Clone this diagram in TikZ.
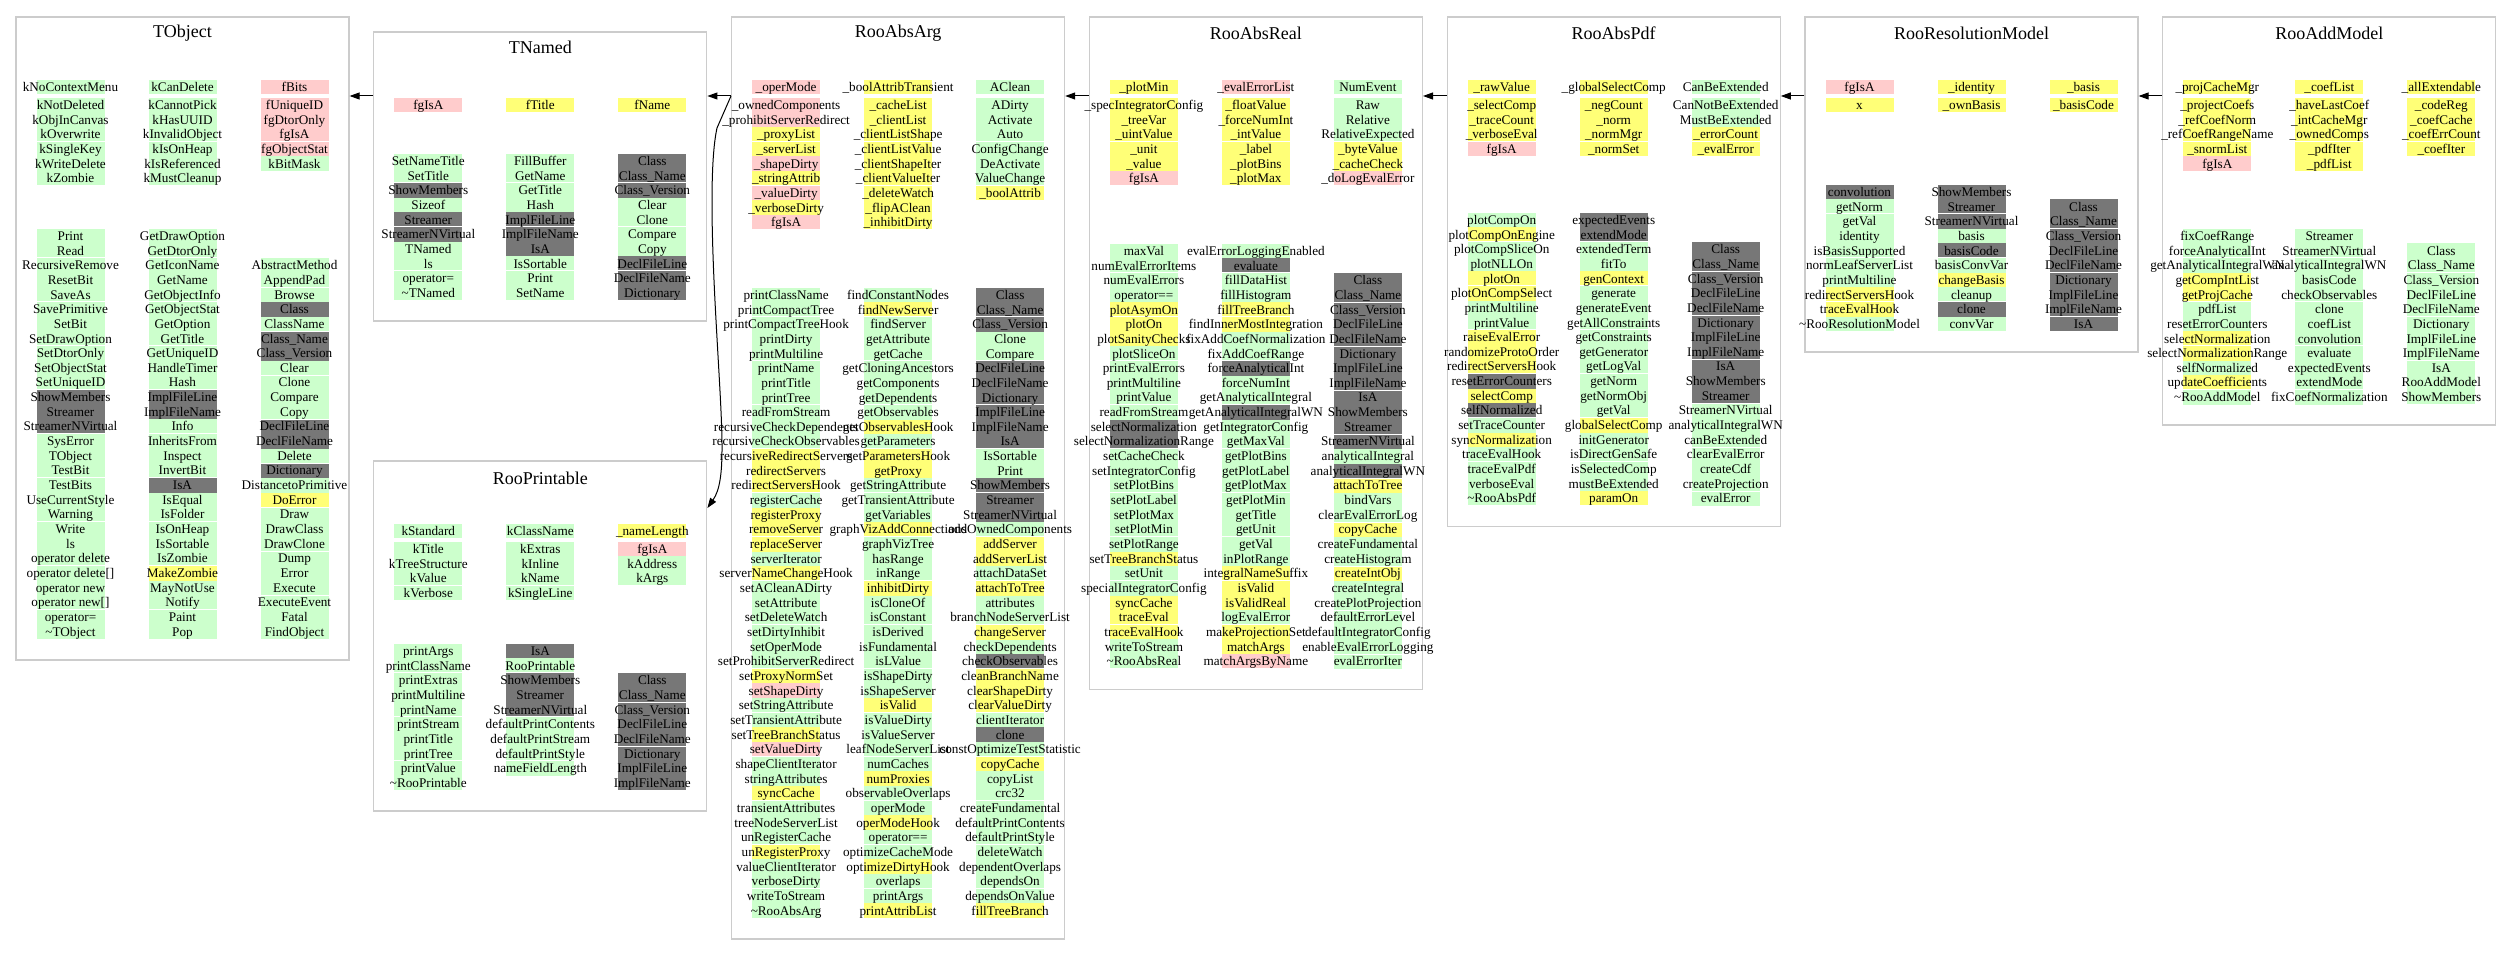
\documentclass[tikz,border=0pt]{standalone}
\usepackage{fontspec}
\setmainfont{Liberation Serif}
\usetikzlibrary{arrows.meta}
\definecolor{gr}{HTML}{CCFFCC}
\definecolor{pk}{HTML}{FFCCCC}
\definecolor{ye}{HTML}{FFFF77}
\definecolor{dg}{HTML}{777777}
\definecolor{frame}{HTML}{CCCCCC}

% one column of members: prefix, x, y of first row, extra gap after first row, colour/text list
% pass 0 paints the cells, pass 1 sets the names on top
\newcommand\memberpass{0}
\newcommand\membercol[5]{%
  \foreach \c/\t [count=\i] in {#5}{%
    \pgfmathsetmacro\yy{#3+(\i-1)*14.66+(\i>1)*#4}%
    \pgfmathtruncatemacro\sep{mod(\i+(#4>0)+1,3)}%
    \ifnum\memberpass=0
      \fill[\c] (#2-34,\yy-7.33) rectangle (#2+34,\yy+7.33);
    \else
      \ifnum\sep=0 \draw[white,line width=1pt] (#2-34,\yy+7.33) -- (#2+34,\yy+7.33); \fi
      \node[member] (#1-\i) at (#2,\yy+4.4) {\t};
    \fi
  }}

\begin{document}
\begin{tikzpicture}[x=1pt,y=-1pt]
    \tikzstyle{classbox}=[draw=frame,line width=1.2pt,minimum width=333pt,inner sep=0pt]
    \tikzstyle{title}=[font=\fontsize{18}{20}\selectfont,inner sep=0pt]
    \tikzstyle{member}=[font=\fontsize{13.2}{14}\selectfont,inner sep=0pt,anchor=base]
    \tikzstyle{inh}=[line width=1pt,-{Triangle[length=10pt,width=7pt]}]
    \useasboundingbox[fill=white] (0,0) rectangle (2509,965);

    % class frames
    \node[classbox,minimum height=643pt] (TObject) at (182.5,338.5) {};
    \node[classbox,minimum height=289pt] (TNamed) at (540.3,176.5) {};
    \node[classbox,minimum height=350pt] (RooPrintable) at (540.3,636) {};
    \node[classbox,minimum height=922pt] (RooAbsArg) at (898.1,478) {};
    \node[classbox,minimum height=672.5pt] (RooAbsReal) at (1255.9,353.25) {};
    \node[classbox,minimum height=509.5pt] (RooAbsPdf) at (1613.7,271.75) {};
    \node[classbox,minimum height=335pt] (RooResolutionModel) at (1971.5,184.5) {};
    \node[classbox,minimum height=408pt] (RooAddModel) at (2329.3,221) {};

    \foreach \name/\x/\y in {TObject/182.5/33, TNamed/540.3/47, RooPrintable/540.3/478,
        RooAbsArg/898.1/33, RooAbsReal/1255.9/33, RooAbsPdf/1613.7/33,
        RooResolutionModel/1971.5/33, RooAddModel/2329.3/33}
        \node[title] (\name-title) at (\x,\y) {\name};

    \newcommand\allmembers{%
    % TObject
    \membercol{TObject-d1}{70.5}{87}{3.34}{gr/kNoContextMenu, gr/kNotDeleted, gr/kObjInCanvas, gr/kOverwrite, gr/kSingleKey, gr/kWriteDelete, gr/kZombie}
    \membercol{TObject-d2}{182.5}{87}{3.34}{gr/kCanDelete, gr/kCannotPick, gr/kHasUUID, gr/kInvalidObject, gr/kIsOnHeap, gr/kIsReferenced, gr/kMustCleanup}
    \membercol{TObject-d3}{294.5}{87}{3.34}{pk/fBits, pk/fUniqueID, pk/fgDtorOnly, pk/fgIsA, pk/fgObjectStat, gr/kBitMask}
    \membercol{TObject-m1}{70.5}{236}{0}{gr/Print, gr/Read, gr/RecursiveRemove, gr/ResetBit, gr/SaveAs, gr/SavePrimitive, gr/SetBit, gr/SetDrawOption, gr/SetDtorOnly, gr/SetObjectStat, gr/SetUniqueID, dg/ShowMembers, dg/Streamer, dg/StreamerNVirtual, gr/SysError, gr/TObject, gr/TestBit, gr/TestBits, gr/UseCurrentStyle, gr/Warning, gr/Write, gr/ls, gr/operator delete, gr/operator delete[], gr/operator new, gr/operator new[], gr/operator=, gr/\textasciitilde TObject}
    \membercol{TObject-m2}{182.5}{236}{0}{gr/GetDrawOption, gr/GetDtorOnly, gr/GetIconName, gr/GetName, gr/GetObjectInfo, gr/GetObjectStat, gr/GetOption, gr/GetTitle, gr/GetUniqueID, gr/HandleTimer, gr/Hash, dg/ImplFileLine, dg/ImplFileName, gr/Info, gr/InheritsFrom, gr/Inspect, gr/InvertBit, dg/IsA, gr/IsEqual, gr/IsFolder, gr/IsOnHeap, gr/IsSortable, gr/IsZombie, ye/MakeZombie, gr/MayNotUse, gr/Notify, gr/Paint, gr/Pop}
    \membercol{TObject-m3}{294.5}{265.32}{0}{gr/AbstractMethod, gr/AppendPad, gr/Browse, dg/Class, gr/ClassName, dg/Class\_Name, dg/Class\_Version, gr/Clear, gr/Clone, gr/Compare, gr/Copy, dg/DeclFileLine, dg/DeclFileName, gr/Delete, dg/Dictionary, gr/DistancetoPrimitive, ye/DoError, gr/Draw, gr/DrawClass, gr/DrawClone, gr/Dump, gr/Error, gr/Execute, gr/ExecuteEvent, gr/Fatal, gr/FindObject}
    % TNamed
    \membercol{TNamed-d1}{428.3}{105}{3.34}{pk/fgIsA}
    \membercol{TNamed-d2}{540.3}{105}{3.34}{ye/fTitle}
    \membercol{TNamed-d3}{652.3}{105}{3.34}{ye/fName}
    \membercol{TNamed-m1}{428.3}{161}{0}{gr/SetNameTitle, gr/SetTitle, dg/ShowMembers, gr/Sizeof, dg/Streamer, dg/StreamerNVirtual, gr/TNamed, gr/ls, gr/operator=, gr/\textasciitilde TNamed}
    \membercol{TNamed-m2}{540.3}{161}{0}{gr/FillBuffer, gr/GetName, gr/GetTitle, gr/Hash, dg/ImplFileLine, dg/ImplFileName, dg/IsA, gr/IsSortable, gr/Print, gr/SetName}
    \membercol{TNamed-m3}{652.3}{161}{0}{dg/Class, dg/Class\_Name, dg/Class\_Version, gr/Clear, gr/Clone, gr/Compare, gr/Copy, dg/DeclFileLine, dg/DeclFileName, dg/Dictionary}
    % RooPrintable
    \membercol{RooPrintable-d1}{428.3}{531}{3.34}{gr/kStandard, gr/kTitle, gr/kTreeStructure, gr/kValue, gr/kVerbose}
    \membercol{RooPrintable-d2}{540.3}{531}{3.34}{gr/kClassName, gr/kExtras, gr/kInline, gr/kName, gr/kSingleLine}
    \membercol{RooPrintable-d3}{652.3}{531}{3.34}{ye/\_nameLength, pk/fgIsA, gr/kAddress, gr/kArgs}
    \membercol{RooPrintable-m1}{428.3}{651}{0}{gr/printArgs, gr/printClassName, gr/printExtras, gr/printMultiline, gr/printName, gr/printStream, gr/printTitle, gr/printTree, gr/printValue, gr/\textasciitilde RooPrintable}
    \membercol{RooPrintable-m2}{540.3}{651}{0}{dg/IsA, gr/RooPrintable, dg/ShowMembers, dg/Streamer, dg/StreamerNVirtual, gr/defaultPrintContents, gr/defaultPrintStream, gr/defaultPrintStyle, gr/nameFieldLength}
    \membercol{RooPrintable-m3}{652.3}{680.32}{0}{dg/Class, dg/Class\_Name, dg/Class\_Version, dg/DeclFileLine, dg/DeclFileName, dg/Dictionary, dg/ImplFileLine, dg/ImplFileName}
    % RooAbsArg
    \membercol{RooAbsArg-d1}{786.1}{87}{3.34}{pk/\_operMode, pk/\_ownedComponents, pk/\_prohibitServerRedirect, ye/\_proxyList, ye/\_serverList, pk/\_shapeDirty, ye/\_stringAttrib, pk/\_valueDirty, ye/\_verboseDirty, pk/fgIsA}
    \membercol{RooAbsArg-d2}{898.1}{87}{3.34}{ye/\_boolAttribTransient, ye/\_cacheList, ye/\_clientList, ye/\_clientListShape, ye/\_clientListValue, ye/\_clientShapeIter, ye/\_clientValueIter, ye/\_deleteWatch, ye/\_flipAClean, ye/\_inhibitDirty}
    \membercol{RooAbsArg-d3}{1010.1}{87}{3.34}{gr/AClean, gr/ADirty, gr/Activate, gr/Auto, gr/ConfigChange, gr/DeActivate, gr/ValueChange, ye/\_boolAttrib}
    \membercol{RooAbsArg-m1}{786.1}{295}{0}{gr/printClassName, gr/printCompactTree, gr/printCompactTreeHook, gr/printDirty, gr/printMultiline, gr/printName, gr/printTitle, gr/printTree, gr/readFromStream, gr/recursiveCheckDependents, gr/recursiveCheckObservables, ye/recursiveRedirectServers, ye/redirectServers, ye/redirectServersHook, gr/registerCache, ye/registerProxy, ye/removeServer, ye/replaceServer, gr/serverIterator, ye/serverNameChangeHook, gr/setACleanADirty, gr/setAttribute, gr/setDeleteWatch, gr/setDirtyInhibit, gr/setOperMode, gr/setProhibitServerRedirect, ye/setProxyNormSet, pk/setShapeDirty, gr/setStringAttribute, gr/setTransientAttribute, ye/setTreeBranchStatus, pk/setValueDirty, gr/shapeClientIterator, gr/stringAttributes, ye/syncCache, gr/transientAttributes, gr/treeNodeServerList, gr/unRegisterCache, ye/unRegisterProxy, gr/valueClientIterator, gr/verboseDirty, gr/writeToStream, gr/\textasciitilde RooAbsArg}
    \membercol{RooAbsArg-m2}{898.1}{295}{0}{gr/findConstantNodes, ye/findNewServer, gr/findServer, gr/getAttribute, gr/getCache, gr/getCloningAncestors, gr/getComponents, gr/getDependents, gr/getObservables, ye/getObservablesHook, gr/getParameters, ye/getParametersHook, ye/getProxy, gr/getStringAttribute, gr/getTransientAttribute, gr/getVariables, ye/graphVizAddConnections, gr/graphVizTree, gr/hasRange, gr/inRange, ye/inhibitDirty, gr/isCloneOf, gr/isConstant, gr/isDerived, gr/isFundamental, gr/isLValue, gr/isShapeDirty, gr/isShapeServer, ye/isValid, gr/isValueDirty, gr/isValueServer, gr/leafNodeServerList, gr/numCaches, ye/numProxies, gr/observableOverlaps, gr/operMode, ye/operModeHook, gr/operator==, gr/optimizeCacheMode, ye/optimizeDirtyHook, gr/overlaps, gr/printArgs, ye/printAttribList}
    \membercol{RooAbsArg-m3}{1010.1}{295}{0}{dg/Class, dg/Class\_Name, dg/Class\_Version, gr/Clone, gr/Compare, dg/DeclFileLine, dg/DeclFileName, dg/Dictionary, dg/ImplFileLine, dg/ImplFileName, dg/IsA, gr/IsSortable, gr/Print, dg/ShowMembers, dg/Streamer, dg/StreamerNVirtual, gr/addOwnedComponents, ye/addServer, ye/addServerList, gr/attachDataSet, ye/attachToTree, gr/attributes, gr/branchNodeServerList, ye/changeServer, gr/checkDependents, dg/checkObservables, ye/cleanBranchName, ye/clearShapeDirty, ye/clearValueDirty, gr/clientIterator, dg/clone, gr/constOptimizeTestStatistic, ye/copyCache, gr/copyList, gr/crc32, gr/createFundamental, gr/defaultPrintContents, gr/defaultPrintStyle, gr/deleteWatch, gr/dependentOverlaps, gr/dependsOn, gr/dependsOnValue, ye/fillTreeBranch}
    % RooAbsReal
    \membercol{RooAbsReal-d1}{1143.9}{87}{3.34}{ye/\_plotMin, ye/\_specIntegratorConfig, ye/\_treeVar, ye/\_uintValue, ye/\_unit, ye/\_value, pk/fgIsA}
    \membercol{RooAbsReal-d2}{1255.9}{87}{3.34}{pk/\_evalErrorList, ye/\_floatValue, ye/\_forceNumInt, ye/\_intValue, ye/\_label, ye/\_plotBins, ye/\_plotMax}
    \membercol{RooAbsReal-d3}{1367.9}{87}{3.34}{gr/NumEvent, gr/Raw, gr/Relative, gr/RelativeExpected, ye/\_byteValue, ye/\_cacheCheck, pk/\_doLogEvalError}
    \membercol{RooAbsReal-m1}{1143.9}{251}{0}{gr/maxVal, gr/numEvalErrorItems, gr/numEvalErrors, gr/operator==, ye/plotAsymOn, ye/plotOn, ye/plotSanityChecks, gr/plotSliceOn, gr/printEvalErrors, gr/printMultiline, gr/printValue, gr/readFromStream, dg/selectNormalization, dg/selectNormalizationRange, gr/setCacheCheck, gr/setIntegratorConfig, gr/setPlotBins, gr/setPlotLabel, gr/setPlotMax, gr/setPlotMin, gr/setPlotRange, ye/setTreeBranchStatus, gr/setUnit, gr/specialIntegratorConfig, ye/syncCache, ye/traceEval, ye/traceEvalHook, gr/writeToStream, gr/\textasciitilde RooAbsReal}
    \membercol{RooAbsReal-m2}{1255.9}{251}{0}{gr/evalErrorLoggingEnabled, dg/evaluate, gr/fillDataHist, gr/fillHistogram, ye/fillTreeBranch, ye/findInnerMostIntegration, gr/fixAddCoefNormalization, gr/fixAddCoefRange, dg/forceAnalyticalInt, gr/forceNumInt, gr/getAnalyticalIntegral, dg/getAnalyticalIntegralWN, gr/getIntegratorConfig, gr/getMaxVal, gr/getPlotBins, gr/getPlotLabel, gr/getPlotMax, gr/getPlotMin, gr/getTitle, gr/getUnit, gr/getVal, gr/inPlotRange, ye/integralNameSuffix, ye/isValid, ye/isValidReal, gr/logEvalError, ye/makeProjectionSet, ye/matchArgs, pk/matchArgsByName}
    \membercol{RooAbsReal-m3}{1367.9}{280.32}{0}{dg/Class, dg/Class\_Name, dg/Class\_Version, dg/DeclFileLine, dg/DeclFileName, dg/Dictionary, dg/ImplFileLine, dg/ImplFileName, dg/IsA, dg/ShowMembers, dg/Streamer, dg/StreamerNVirtual, gr/analyticalIntegral, dg/analyticalIntegralWN, ye/attachToTree, gr/bindVars, gr/clearEvalErrorLog, ye/copyCache, gr/createFundamental, gr/createHistogram, ye/createIntObj, gr/createIntegral, gr/createPlotProjection, gr/defaultErrorLevel, gr/defaultIntegratorConfig, gr/enableEvalErrorLogging, gr/evalErrorIter}
    % RooAbsPdf
    \membercol{RooAbsPdf-d1}{1501.7}{87}{3.34}{ye/\_rawValue, ye/\_selectComp, ye/\_traceCount, ye/\_verboseEval, pk/fgIsA}
    \membercol{RooAbsPdf-d2}{1613.7}{87}{3.34}{ye/\_globalSelectComp, ye/\_negCount, ye/\_norm, ye/\_normMgr, ye/\_normSet}
    \membercol{RooAbsPdf-d3}{1725.7}{87}{3.34}{gr/CanBeExtended, gr/CanNotBeExtended, gr/MustBeExtended, ye/\_errorCount, ye/\_evalError}
    \membercol{RooAbsPdf-m1}{1501.7}{220}{0}{gr/plotCompOn, ye/plotCompOnEngine, gr/plotCompSliceOn, gr/plotNLLOn, ye/plotOn, ye/plotOnCompSelect, gr/printMultiline, gr/printValue, ye/raiseEvalError, ye/randomizeProtoOrder, ye/redirectServersHook, dg/resetErrorCounters, ye/selectComp, dg/selfNormalized, gr/setTraceCounter, ye/syncNormalization, gr/traceEvalHook, gr/traceEvalPdf, gr/verboseEval, gr/\textasciitilde RooAbsPdf}
    \membercol{RooAbsPdf-m2}{1613.7}{220}{0}{dg/expectedEvents, dg/extendMode, gr/extendedTerm, gr/fitTo, ye/genContext, gr/generate, gr/generateEvent, gr/getAllConstraints, gr/getConstraints, gr/getGenerator, gr/getLogVal, gr/getNorm, gr/getNormObj, gr/getVal, ye/globalSelectComp, gr/initGenerator, gr/isDirectGenSafe, gr/isSelectedComp, gr/mustBeExtended, ye/paramOn}
    \membercol{RooAbsPdf-m3}{1725.7}{249.32}{0}{dg/Class, dg/Class\_Name, dg/Class\_Version, dg/DeclFileLine, dg/DeclFileName, dg/Dictionary, dg/ImplFileLine, dg/ImplFileName, dg/IsA, dg/ShowMembers, dg/Streamer, gr/StreamerNVirtual, gr/analyticalIntegralWN, gr/canBeExtended, gr/clearEvalError, gr/createCdf, gr/createProjection, gr/evalError}
    % RooResolutionModel
    \membercol{RooResolutionModel-d1}{1859.5}{87}{3.34}{pk/fgIsA, ye/x}
    \membercol{RooResolutionModel-d2}{1971.5}{87}{3.34}{ye/\_identity, ye/\_ownBasis}
    \membercol{RooResolutionModel-d3}{2083.5}{87}{3.34}{ye/\_basis, ye/\_basisCode}
    \membercol{RooResolutionModel-m1}{1859.5}{192}{0}{dg/convolution, gr/getNorm, gr/getVal, gr/identity, gr/isBasisSupported, gr/normLeafServerList, gr/printMultiline, ye/redirectServersHook, ye/traceEvalHook, gr/\textasciitilde RooResolutionModel}
    \membercol{RooResolutionModel-m2}{1971.5}{192}{0}{dg/ShowMembers, dg/Streamer, dg/StreamerNVirtual, gr/basis, dg/basisCode, gr/basisConvVar, ye/changeBasis, gr/cleanup, dg/clone, gr/convVar}
    \membercol{RooResolutionModel-m3}{2083.5}{206.66}{0}{dg/Class, dg/Class\_Name, dg/Class\_Version, dg/DeclFileLine, dg/DeclFileName, dg/Dictionary, dg/ImplFileLine, dg/ImplFileName, dg/IsA}
    % RooAddModel
    \membercol{RooAddModel-d1}{2217.3}{87}{3.34}{ye/\_projCacheMgr, ye/\_projectCoefs, ye/\_refCoefNorm, ye/\_refCoefRangeName, ye/\_snormList, pk/fgIsA}
    \membercol{RooAddModel-d2}{2329.3}{87}{3.34}{ye/\_coefList, ye/\_haveLastCoef, ye/\_intCacheMgr, ye/\_ownedComps, ye/\_pdfIter, ye/\_pdfList}
    \membercol{RooAddModel-d3}{2441.3}{87}{3.34}{ye/\_allExtendable, ye/\_codeReg, ye/\_coefCache, ye/\_coefErrCount, ye/\_coefIter}
    \membercol{RooAddModel-m1}{2217.3}{236}{0}{gr/fixCoefRange, gr/forceAnalyticalInt, gr/getAnalyticalIntegralWN, ye/getCompIntList, ye/getProjCache, gr/pdfList, gr/resetErrorCounters, ye/selectNormalization, ye/selectNormalizationRange, gr/selfNormalized, ye/updateCoefficients, gr/\textasciitilde RooAddModel}
    \membercol{RooAddModel-m2}{2329.3}{236}{0}{gr/Streamer, gr/StreamerNVirtual, gr/analyticalIntegralWN, gr/basisCode, gr/checkObservables, gr/clone, gr/coefList, gr/convolution, gr/evaluate, gr/expectedEvents, gr/extendMode, gr/fixCoefNormalization}
    \membercol{RooAddModel-m3}{2441.3}{250.66}{0}{gr/Class, gr/Class\_Name, gr/Class\_Version, gr/DeclFileLine, gr/DeclFileName, gr/Dictionary, gr/ImplFileLine, gr/ImplFileName, gr/IsA, gr/RooAddModel, gr/ShowMembers}
    }
    \renewcommand\memberpass{0}\allmembers
    \renewcommand\memberpass{1}\allmembers

    % inheritance
    \coordinate (lvl) at (0,96);
    \coordinate (rp) at (0,508);
    \foreach \from/\to in {TNamed/TObject, RooAbsArg/TNamed, RooAbsReal/RooAbsArg,
        RooAbsPdf/RooAbsReal, RooResolutionModel/RooAbsPdf, RooAddModel/RooResolutionModel}
        \draw[inh] (\from.west |- lvl) -- (\to.east |- lvl);
    \draw[inh] (RooAbsArg.west |- lvl) -- (717,128) .. controls (710,160) and (711,230) .. (716,320)
        .. controls (722,430) and (727,480) .. (RooPrintable.east |- rp);
\end{tikzpicture}
\end{document}
